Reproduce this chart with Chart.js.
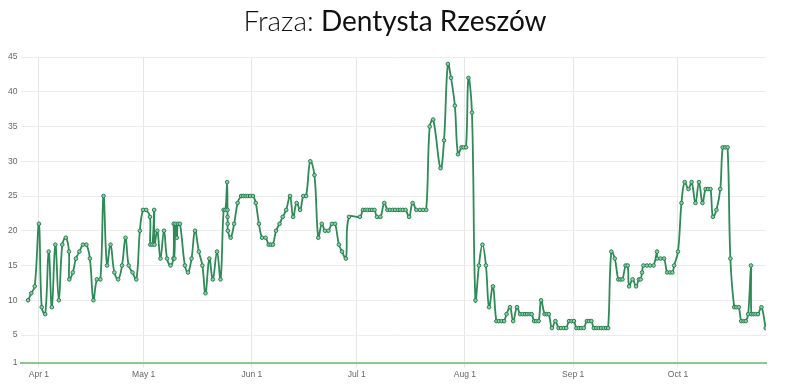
<!DOCTYPE html>
<html>
<head>
<meta charset="utf-8">
<script src="https://cdn.jsdelivr.net/npm/chart.js@4.4.0/dist/chart.umd.min.js"></script>
<style>
    html, body { margin: 0; padding: 0; background: #fff; }
    #wrap { position: relative; width: 790px; height: 385px; }
    #tytul { position: absolute; top: 3px; left: 0; width: 790px; text-align: center;
             font-family: Lato, 'Open Sans', sans-serif; font-size: 28px; color: #111; }
    #tytul .lekki { font-weight: 300; }
    #tytul .mocny { font-weight: 400; }
    canvas { position: absolute; top: 0; left: 0; }
</style>
</head>
<body>
<div id="wrap">
    <canvas id="wykres" width="790" height="385"></canvas>
    <div id="tytul"><span class="lekki">Fraza:</span> <span class="mocny">Dentysta Rzeszów</span></div>
</div>
<script>
// dni liczone od 1 kwietnia
const dni = [
    -3.1, -2.2, -1.2, 0, 0.8, 1.8, 2.8, 3.7, 4.7, 5.7,
    6.7, 7.7, 8.6, 8.7, 9.7, 10.6, 11.6, 12.6, 13.6, 14.6,
    15.6, 16.6, 17.6, 18.5, 19.5, 20.5, 21.6, 22.7, 23.8, 24.8,
    25.7, 26.8, 27.9, 28.9, 29.8, 30.7, 31.8, 31.9, 32.5, 33.0,
    33.1, 33.9, 34.8, 35.8, 36.7, 37.7, 38.5, 38.6, 38.8, 39.1,
    39.5, 39.8, 40.4, 41.8, 42.7, 43.7, 44.7, 45.8, 46.8, 47.7,
    48.8, 49.8, 51.0, 52.0, 52.9, 53.4, 53.9, 54.0, 54.02, 54.05,
    54.1, 54.9, 55.9, 56.9, 57.9, 58.5, 59.2, 59.8, 60.5, 61.3,
    62.1, 63.0, 63.9, 64.9, 65.8, 66.4, 67.0, 67.9, 68.9, 69.8,
    70.8, 71.9, 72.8, 73.8, 74.8, 75.7, 76.5, 77.7, 78.9, 80.0,
    81.0, 81.9, 82.9, 83.9, 84.8, 85.9, 86.8, 87.9, 88.8, 91.9,
    92.8, 93.5, 94.1, 94.8, 95.4, 96.1, 96.8, 97.8, 98.9, 99.8,
    100.5, 101.3, 102.0, 102.8, 103.5, 104.2, 105.0, 106.0, 107.0, 108.1,
    109.1, 110.0, 110.9, 111.9, 112.9, 115.0, 116.0, 117.1, 118.0, 119.1,
    120.0, 121.0, 121.6, 122.3, 123.0, 124.0, 125.0, 126.0, 127.0, 128.0,
    128.9, 130.0, 131.0, 131.7, 132.5, 133.2, 133.9, 134.9, 135.8, 136.9,
    137.8, 138.5, 139.2, 139.8, 140.5, 141.1, 141.8, 142.4, 143.1, 143.8,
    144.8, 145.4, 146.0, 146.9, 147.9, 148.8, 149.5, 150.3, 151.0, 151.8,
    152.5, 153.2, 153.9, 154.6, 155.3, 156.0, 156.9, 157.5, 158.2, 158.9,
    159.6, 160.3, 161.0, 161.7, 162.4, 163.0, 163.9, 164.9, 165.9, 166.5,
    167.1, 168.0, 168.6, 169.0, 170.0, 171.0, 171.8, 172.3, 172.7, 173.1,
    174.1, 175.0, 176.0, 177.0, 177.1, 178.0, 179.0, 179.9, 180.7, 181.4,
    181.9, 183.0, 184.0, 184.9, 186.0, 186.9, 188.0, 189.0, 190.0, 190.9,
    191.6, 192.3, 193.0, 194.0, 195.1, 195.8, 196.5, 197.2, 198.0, 199.1,
    199.7, 200.4, 201.1, 201.8, 202.4, 203.1, 203.9, 204.0, 204.6, 205.2,
    205.9, 206.9, 208.1
];

// pozycje w wynikach
const pozycje = [
    10, 11, 12, 21, 9, 8, 17, 9, 18, 10,
    18, 19, 17, 13, 14, 16, 17, 18, 18, 16,
    10, 13, 13, 25, 15, 18, 14, 13, 15, 19,
    15, 14, 13, 20, 23, 23, 22, 18, 18, 23,
    18, 20, 16, 20, 16, 15, 16, 21, 16, 21,
    19, 21, 21, 15, 14, 16, 20, 17, 15, 11,
    16, 13, 17, 13, 23, 23, 27, 23, 22, 21,
    20, 19, 21, 24, 25, 25, 25, 25, 25, 25,
    24, 21, 19, 19, 18, 18, 18, 20, 21, 22,
    23, 25, 22, 24, 23, 25, 25, 30, 28, 19,
    21, 20, 20, 21, 21, 18, 17, 16, 22, 22,
    23, 23, 23, 23, 23, 23, 22, 22, 24, 23,
    23, 23, 23, 23, 23, 23, 23, 22, 24, 23,
    23, 23, 23, 35, 36, 29, 33, 44, 42, 38,
    31, 32, 32, 32, 42, 37, 10, 15, 18, 15,
    9, 12, 7, 7, 7, 7, 8, 9, 7, 9,
    8, 8, 8, 8, 8, 8, 7, 7, 7, 10,
    8, 8, 8, 6, 7, 6, 6, 6, 6, 7,
    7, 7, 6, 6, 6, 6, 7, 7, 7, 6,
    6, 6, 6, 6, 6, 6, 17, 16, 13, 13,
    13, 15, 15, 12, 13, 12, 13, 13, 14, 15,
    15, 15, 15, 17, 16, 16, 16, 14, 14, 14,
    15, 17, 24, 27, 26, 27, 24, 27, 24, 26,
    26, 26, 22, 23, 26, 32, 32, 32, 16, 9,
    9, 9, 7, 7, 7, 8, 15, 8, 8, 8,
    8, 9, 6
];

// podziałka osi X (pierwszy dzień miesiąca) i osi Y
const miesiaceDni = [0, 30, 61, 91, 122, 153, 183];
const miesiaceEtykiety = ['Apr 1', 'May 1', 'Jun 1', 'Jul 1', 'Aug 1', 'Sep 1', 'Oct 1'];
const podzialkaY = [1, 5, 10, 15, 20, 25, 30, 35, 40, 45];

const punkty = dni.map((d, i) => ({ x: d, y: pozycje[i] }));

const czcionkaOsi = { family: "'Liberation Sans', Arial, sans-serif", size: 8.5 };

new Chart(document.getElementById('wykres'), {
    type: 'line',
    data: {
        datasets: [{
            label: 'Dentysta Rzeszów',
            data: punkty,
            borderColor: '#2e8b57',
            borderWidth: 1.8,
            tension: 0.4,
            pointRadius: 1.8,
            pointBorderWidth: 1,
            pointBorderColor: '#2a7d4f',
            pointBackgroundColor: '#86d3a6',
            fill: false
        }]
    },
    options: {
        responsive: false,
        animation: false,
        layout: { padding: { top: 57, right: 24, left: 4, bottom: 3 } },
        plugins: {
            legend: { display: false },
            tooltip: { enabled: false }
        },
        scales: {
            x: {
                type: 'linear',
                min: -5,
                max: 208.2,
                afterBuildTicks: (axis) => { axis.ticks = miesiaceDni.map(v => ({ value: v })); },
                ticks: {
                    color: '#666',
                    font: czcionkaOsi,
                    maxRotation: 0,
                    padding: 2,
                    callback: (value) => miesiaceEtykiety[miesiaceDni.indexOf(value)]
                },
                grid: { color: '#e6e6e6', tickLength: 5 },
                border: { color: '#8cc98c', width: 2 }
            },
            y: {
                min: 1,
                max: 45,
                afterBuildTicks: (axis) => { axis.ticks = podzialkaY.map(v => ({ value: v })); },
                ticks: { color: '#666', font: czcionkaOsi, padding: 4 },
                grid: { color: '#ececec', drawTicks: false },
                border: { display: false }
            }
        }
    }
});
</script>
</body>
</html>
